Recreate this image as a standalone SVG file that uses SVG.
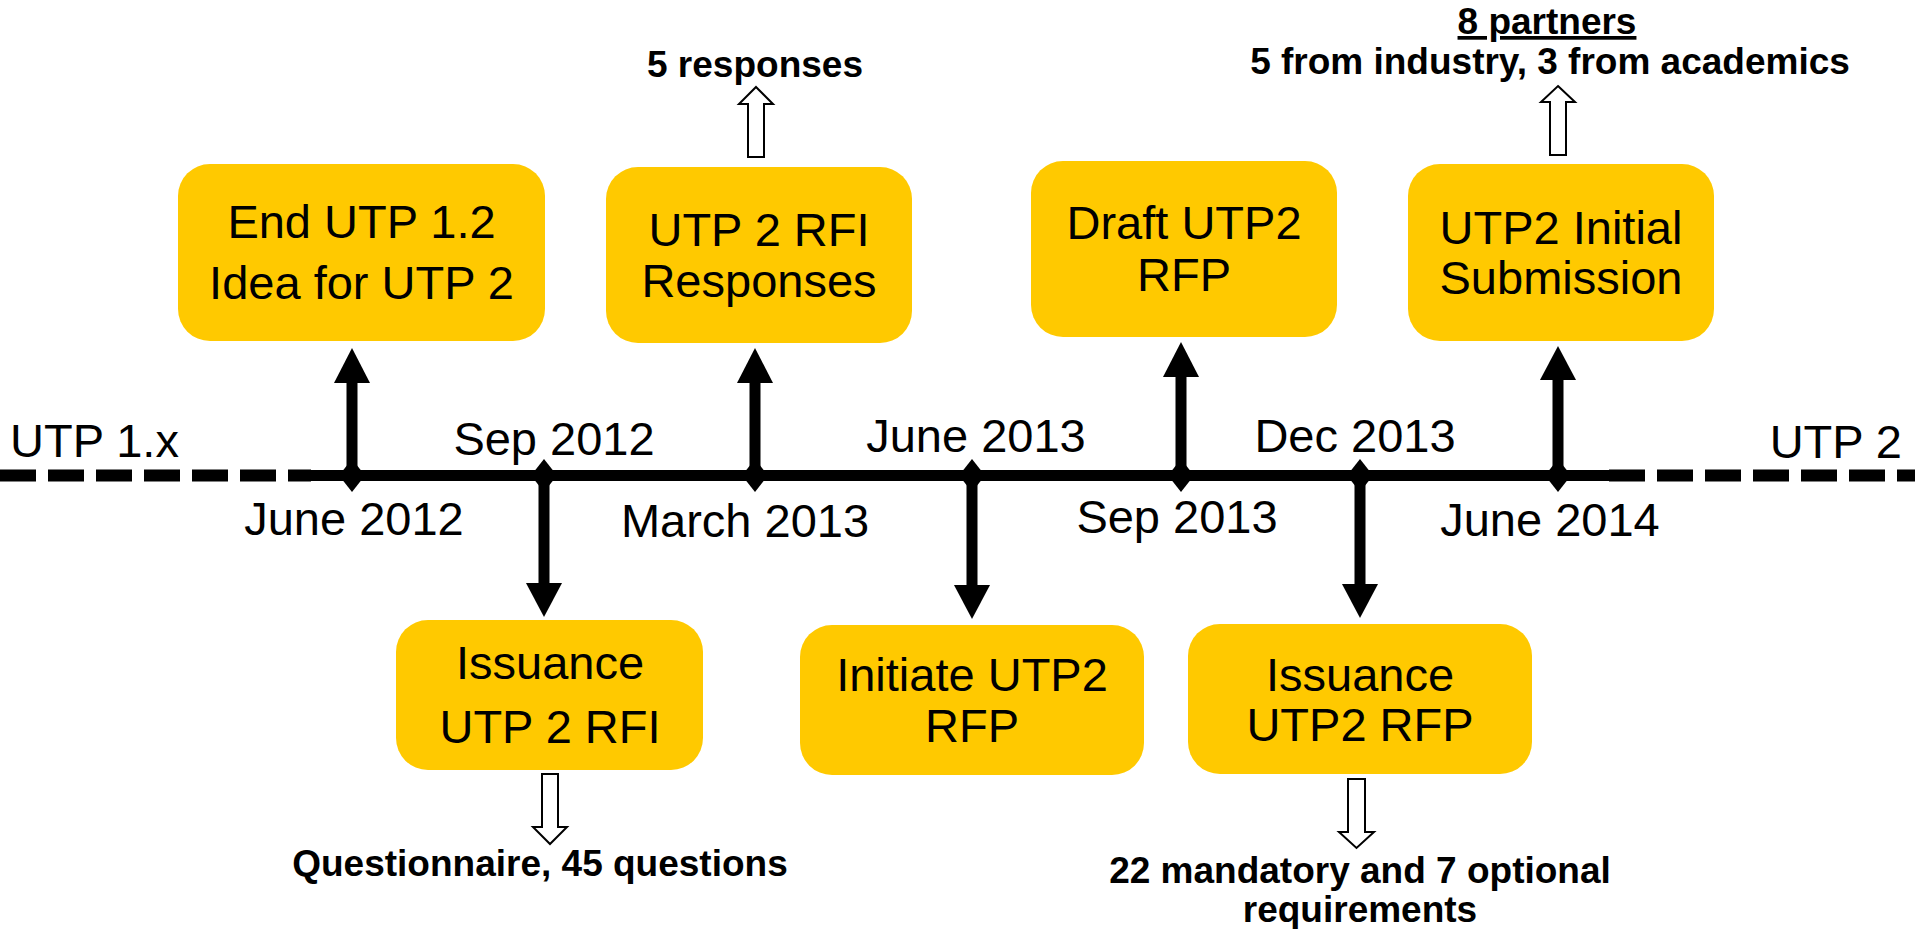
<svg xmlns="http://www.w3.org/2000/svg" width="1915" height="929" viewBox="0 0 1915 929">
<style>
.box{fill:#FFC900}
.t{font-family:"Liberation Sans",Arial,sans-serif;font-size:47px;fill:#000;text-anchor:middle}
.b{font-family:"Liberation Sans",Arial,sans-serif;font-size:37px;font-weight:bold;fill:#000;text-anchor:middle}
.stem{stroke:#000;stroke-width:11;fill:none}
.dash{stroke:#000;stroke-width:12;stroke-dasharray:36 12;fill:none}
.head{fill:#000}
.hollow{fill:#fff;stroke:#000;stroke-width:2}
</style>
<rect width="1915" height="929" fill="#fff"/>
<g id="connectors">
  <line class="dash" x1="0" y1="475.5" x2="311" y2="475.5"/>
  <line class="dash" x1="1609" y1="475.5" x2="1915" y2="475.5"/>
  <line class="stem" x1="297" y1="475.5" x2="1640" y2="475.5"/>
  <!-- up arrows -->
  <line class="stem" x1="352" y1="476" x2="352" y2="380"/>
  <polygon class="head" points="334,383 370,383 352,348"/>
  <line class="stem" x1="755" y1="476" x2="755" y2="380"/>
  <polygon class="head" points="737,383 773,383 755,348"/>
  <line class="stem" x1="1181" y1="476" x2="1181" y2="374"/>
  <polygon class="head" points="1163,377 1199,377 1181,342"/>
  <line class="stem" x1="1558" y1="476" x2="1558" y2="377"/>
  <polygon class="head" points="1540,380 1576,380 1558,346"/>
  <!-- down arrows -->
  <line class="stem" x1="544" y1="475" x2="544" y2="586"/>
  <polygon class="head" points="526,583 562,583 544,617"/>
  <line class="stem" x1="972" y1="475" x2="972" y2="588"/>
  <polygon class="head" points="954,585 990,585 972,619"/>
  <line class="stem" x1="1360" y1="475" x2="1360" y2="587"/>
  <polygon class="head" points="1342,584 1378,584 1360,618"/>
  <!-- diamonds -->
  <polygon class="head" points="352,459 365,475.5 352,492 339,475.5"/>
  <polygon class="head" points="544,459 557,475.5 544,492 531,475.5"/>
  <polygon class="head" points="755,459 768,475.5 755,492 742,475.5"/>
  <polygon class="head" points="972,459 985,475.5 972,492 959,475.5"/>
  <polygon class="head" points="1181,459 1194,475.5 1181,492 1168,475.5"/>
  <polygon class="head" points="1360,459 1373,475.5 1360,492 1347,475.5"/>
  <polygon class="head" points="1558,459 1571,475.5 1558,492 1545,475.5"/>
  <!-- hollow arrows -->
  <path class="hollow" d="M756,87 L773,104 L764,104 L764,157 L748,157 L748,104 L739,104 Z"/>
  <path class="hollow" d="M1558,86 L1575,102 L1566,102 L1566,155 L1550,155 L1550,102 L1541,102 Z"/>
  <path class="hollow" d="M542,774 L558,774 L558,827 L567,827 L550,844 L533,827 L542,827 Z"/>
  <path class="hollow" d="M1348,779 L1365,779 L1365,832 L1374,832 L1356.5,848 L1339,832 L1348,832 Z"/>
</g>
<g id="end-utp12">
  <rect class="box" x="178" y="164" width="367" height="177" rx="32"/>
  <text class="t" x="361.5" y="238">End UTP 1.2</text>
  <text class="t" x="361.5" y="299">Idea for UTP 2</text>
</g>
<g id="rfi-responses">
  <rect class="box" x="606" y="167" width="306" height="176" rx="32"/>
  <text class="t" x="759" y="246">UTP 2 RFI</text>
  <text class="t" x="759" y="297">Responses</text>
</g>
<g id="draft-rfp">
  <rect class="box" x="1031" y="161" width="306" height="176" rx="32"/>
  <text class="t" x="1184" y="239">Draft UTP2</text>
  <text class="t" x="1184" y="291">RFP</text>
</g>
<g id="initial-submission">
  <rect class="box" x="1408" y="164" width="306" height="177" rx="32"/>
  <text class="t" x="1561" y="244">UTP2 Initial</text>
  <text class="t" x="1561" y="294">Submission</text>
</g>
<g id="issuance-rfi">
  <rect class="box" x="396" y="620" width="307" height="150" rx="32"/>
  <text class="t" x="550" y="679">Issuance</text>
  <text class="t" x="550" y="743">UTP 2 RFI</text>
</g>
<g id="initiate-rfp">
  <rect class="box" x="800" y="625" width="344" height="150" rx="32"/>
  <text class="t" x="972" y="691">Initiate UTP2</text>
  <text class="t" x="972" y="742">RFP</text>
</g>
<g id="issuance-rfp">
  <rect class="box" x="1188" y="624" width="344" height="150" rx="32"/>
  <text class="t" x="1360" y="691">Issuance</text>
  <text class="t" x="1360" y="741">UTP2 RFP</text>
</g>
<g id="labels">
  <text class="t" x="10" y="457" text-anchor="start" style="text-anchor:start">UTP 1.x</text>
  <text class="t" x="1902" y="458" style="text-anchor:end">UTP 2</text>
  <text class="t" x="354" y="535">June 2012</text>
  <text class="t" x="554" y="455">Sep 2012</text>
  <text class="t" x="745" y="537">March 2013</text>
  <text class="t" x="976" y="452">June 2013</text>
  <text class="t" x="1177" y="533">Sep 2013</text>
  <text class="t" x="1355" y="452">Dec 2013</text>
  <text class="t" x="1550" y="536">June 2014</text>
</g>
<g id="annotations">
  <text class="b" x="755" y="77">5 responses</text>
  <text class="b" x="1547" y="34" text-decoration="underline">8 partners</text>
  <text class="b" x="1550" y="74">5 from industry, 3 from academics</text>
  <text class="b" x="540" y="876">Questionnaire, 45 questions</text>
  <text class="b" x="1360" y="883">22 mandatory and 7 optional</text>
  <text class="b" x="1360" y="922">requirements</text>
</g>
</svg>
